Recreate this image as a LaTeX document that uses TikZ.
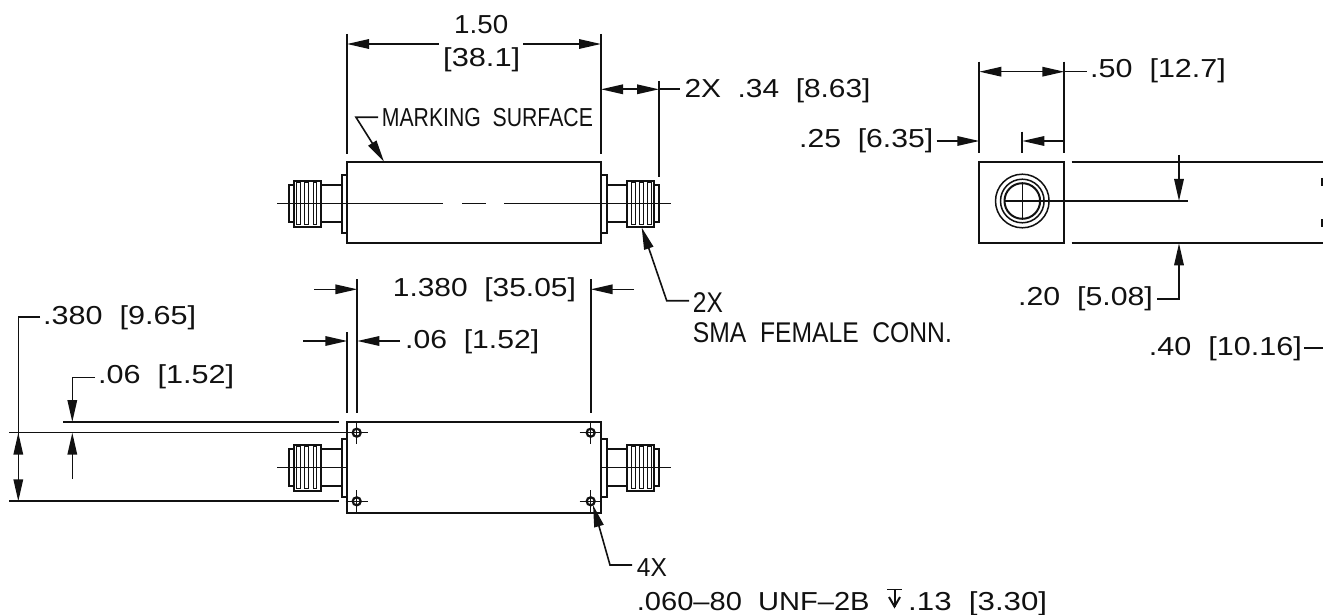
\documentclass[tikz,border=0pt]{standalone}
\usepackage{graphicx}
\usepackage{fontspec}
\setmainfont{Liberation Sans}
\usetikzlibrary{arrows.meta}
\newcommand{\lbl}[5]{\node[lbltext] (#1) at (#2,#4) {\resizebox{#3pt}{\height}{#5}};}
\newcommand{\biglbl}[5]{\node[lbltext,font=\fontsize{28.5}{32}\selectfont] (#1) at (#2,#4) {\resizebox{#3pt}{\height}{#5}};}
\newcommand{\connector}[2]{%
  \begin{scope}[shift={(474,#1)},xscale=#2]
    \draw[heavy] (-132.5,-29) rectangle (-127,29);
    \draw[heavy] (-132.5,-18.5) -- (-153,-18.5) (-132.5,18.5) -- (-153,18.5);
    \draw[heavy] (-180,-18.5) rectangle (-185,18.5);
    \draw[heavy,fill=white] (-153,-23) rectangle (-180,23);
    \foreach \a/\b in {177.3/173.6,169.2/165.5,161/157.3}{
      \draw[line width=1pt,draw=ink] (-\a,-20.8) rectangle (-\b,20.8);
    }
  \end{scope}}
\newcommand{\hole}[3]{%
  \coordinate (#1) at (#2,#3);
  \draw[line width=2.2pt,draw=ink] (#1) circle (4);
  \draw[fine] ([xshift=-11pt]#1) -- ([xshift=11pt]#1) ([yshift=-11pt]#1) -- ([yshift=11pt]#1);}
\tikzset{
  x=1pt,y=-1pt,
  >={Triangle[length=22pt,width=9.5pt]},
  heavy/.style={line width=2pt,draw=ink},
  fine/.style={line width=1.5pt,draw=ink},
  dim/.style={line width=1.6pt,draw=ink},
  ext/.style={line width=2pt,draw=ink},
  lbltext/.style={anchor=base west,inner sep=0pt,text=ink,font=\fontsize{26}{30}\selectfont}
}
\definecolor{ink}{HTML}{111111}
\begin{document}
\begin{tikzpicture}
\fill[white] (0,0) rectangle (1323,615);
\useasboundingbox (0,0) rectangle (1323,615);

% top view
\draw[heavy] (347,162) rectangle (601,243);
\connector{203.7}{1}
\connector{203.7}{-1}
\draw[fine] (277.3,203.7) -- (443,203.7) (462.3,203.7) -- (486,203.7) (504.3,203.7) -- (670.7,203.7);

% top view dimensions
\coordinate (ta) at (347,44); \coordinate (tb) at (601,44);
\draw[ext] (347,34) -- (347,154) (601,34) -- (601,154);
\draw[dim,<-] (ta) -- (439,44);
\draw[dim,->] (523,44) -- (tb);
\lbl{t150}{454}{54}{34}{1.50}
\lbl{t381}{443}{77}{67}{[38.1]}
\draw[ext] (659,81) -- (659,176.7);
\draw[dim,<->] (601,89.3) -- (659,89.3);
\draw[dim] (659,89.3) -- (680,89.3);
\lbl{t234}{684.3}{186}{97.7}{2X\ \ .34\ \ [8.63]}
\draw[dim,->] (378,117.3) -- (356,117.3) -- (384,161.7);
\lbl{tmark}{381.7}{211}{127}{MARKING\ \ SURFACE}
\draw[dim,<-] (641.7,227.5) -- (666.7,300.7) -- (689,300.7);
\biglbl{t2x}{692.7}{30}{312.3}{2X}
\biglbl{tsma}{692.7}{259}{342.3}{SMA\ \ FEMALE\ \ CONN.}

% bottom view
\draw[heavy] (347,421.7) rectangle (601,512.7);
\connector{467.7}{1}
\connector{467.7}{-1}
\draw[fine] (277.3,467.7) -- (347,467.7) (601,467.7) -- (670.7,467.7);
\hole{ha}{356.7}{432.7}
\hole{hb}{356.7}{501.3}
\hole{hc}{590.7}{432.7}
\hole{hd}{590.7}{501.3}

% bottom view dimensions
\draw[ext] (347.3,332) -- (347.3,413) (590.7,279) -- (590.7,413);
\draw[ext] (357.3,279) -- (357.3,413);
\draw[dim,->] (314,289.3) -- (357.3,289.3);
\draw[dim,->] (634,289.3) -- (590.7,289.3);
\lbl{t1380}{392.7}{183}{296.7}{1.380\ \ [35.05]}
\draw[dim,->] (303,341) -- (347.3,341);
\draw[dim,->] (400,341) -- (357.3,341);
\lbl{t06a}{405}{134}{348}{.06\ \ [1.52]}
\draw[ext] (63,422) -- (339,422);
\draw[fine] (9.3,432.7) -- (347,432.7);
\draw[ext] (9.3,501.3) -- (339,501.3);
\draw[dim,->] (40,316.7) -- (18.3,316.7) -- (18.3,501.3);
\draw[dim,->] (18.3,470) -- (18.3,432.7);
\lbl{t380}{43}{153}{324}{.380\ \ [9.65]}
\draw[dim,->] (95,377.3) -- (72.3,377.3) -- (72.3,422);
\draw[dim,->] (72.3,479) -- (72.3,432.7);
\lbl{t06b}{98}{136}{383}{.06\ \ [1.52]}
\draw[dim,<-] (593,505) -- (610,565) -- (632,565);
\lbl{t4x}{636.7}{30}{576.7}{4X}
\lbl{tunf}{636.7}{232.7}{610.7}{.060–80\ \ UNF–2B}
\draw[fine] (887,589.5) -- (902,589.5);
\draw[line width=2pt,draw=ink] (894.5,589.5) -- (894.5,606.5);
\draw[heavy,line join=miter] (889,597) -- (894.5,606.5) -- (900,597);
\lbl{t13}{908}{139}{610.7}{.13\ \ [3.30]}

% end view
\draw[heavy] (979.3,161.7) rectangle (1064.3,243.3);
\coordinate (cc) at (1022.3,201);
\draw[fine] (cc) circle (26.8);
\draw[fine] (cc) circle (21.8);
\draw[heavy] (cc) circle (17.8);
\draw[fine] (1022.3,183.2) -- (1022.3,218.8);
\draw[fine] (1004.5,201) -- (1187.7,201);
\draw[ext] (1071.7,161.7) -- (1323,161.7) (1071.7,243.3) -- (1323,243.3);
\draw[ext] (1322,178) -- (1322,186) (1322,219) -- (1322,227);

% end view dimensions
\draw[ext] (979.3,61.7) -- (979.3,153) (1064.3,61.7) -- (1064.3,153);
\draw[dim,<->] (979.3,71.7) -- (1064.3,71.7);
\draw[dim] (1064.3,71.7) -- (1086.7,71.7);
\lbl{t50}{1090}{135.7}{78}{.50\ \ [12.7]}
\draw[dim,->] (936.7,141) -- (979.3,141);
\lbl{t25}{799}{134}{148}{.25\ \ [6.35]}
\draw[ext] (1022.3,131.7) -- (1022.3,153);
\draw[dim,->] (1064.3,141) -- (1022.3,141);
\draw[dim,->] (1179,155) -- (1179,201);
\draw[dim,->] (1157,299) -- (1179,299) -- (1179,243.3);
\lbl{t20}{1018}{134.7}{305}{.20\ \ [5.08]}
\lbl{t40}{1148.7}{153}{355}{.40\ \ [10.16]}
\draw[dim] (1304,348) -- (1323,348);
\end{tikzpicture}
\end{document}
